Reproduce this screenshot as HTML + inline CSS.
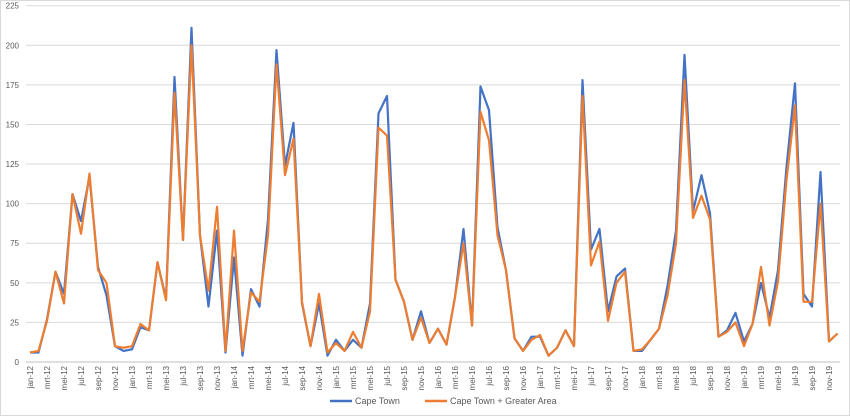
<!DOCTYPE html>
<html><head><meta charset="utf-8"><style>
body{margin:0;background:#fff;font-family:"Liberation Sans",sans-serif;}
svg{display:block}
</style></head><body>
<svg id="chart" width="850" height="416" xmlns="http://www.w3.org/2000/svg">
<rect x="0.5" y="0.5" width="849" height="415" fill="#fff" stroke="#d9d9d9"/>
<g id="grid"></g><g id="yt"></g><g id="xt"></g><g id="series"></g>
<g>
<line x1="330" y1="401" x2="352" y2="401" stroke="#4472C4" stroke-width="2.5"/>
<text x="355" y="404" font-size="9" fill="#595959">Cape Town</text>
<line x1="425" y1="401" x2="447" y2="401" stroke="#ED7D31" stroke-width="2.5"/>
<text x="450" y="404" font-size="9" fill="#595959">Cape Town + Greater Area</text>
</g>
</svg>
<script>
const months=["jan","feb","mrt","apr","mei","jun","jul","aug","sep","okt","nov","dec"];
const capeTown=[6,6,27,57,43,106,89,117,60,42,10,7,
8,22,20,63,40,180,77,211,80,35,83,6,
66,4,46,35,90,197,124,151,37,10,37,4,
14,7,14,9,37,157,168,52,38,14,32,12,
21,11,41,84,23,174,159,85,58,15,7,16,
16,4,9,20,10,178,71,84,32,54,59,7,
7,14,21,48,83,194,95,118,94,16,20,31,
13,24,50,28,58,123,176,43,35,120,13,18];
const greater=[6,7,26,57,37,106,81,119,58,50,10,9,
10,24,20,63,39,170,77,200,80,45,98,7,
83,7,44,38,80,188,118,141,38,10,43,6,
12,7,19,9,32,148,143,52,38,14,28,12,
21,11,41,75,23,158,140,80,58,15,7,14,
17,4,9,20,10,168,61,76,26,50,57,7,
8,14,21,42,75,178,91,105,90,16,19,25,
10,24,60,23,51,115,162,38,38,100,13,18];
const yTicks=[0,25,50,75,100,125,150,175,200,225];
const NS="http://www.w3.org/2000/svg";
const x0=30,dx=8.5,yb=362,yt=5.7;
const X=i=>x0+i*dx, Y=v=>yb-(v/225)*(yb-yt);
function mk(t,a,p){const e=document.createElementNS(NS,t);for(const k in a)e.setAttribute(k,a[k]);p.appendChild(e);return e;}
const grid=document.getElementById('grid'),ytg=document.getElementById('yt'),xtg=document.getElementById('xt'),sg=document.getElementById('series');
yTicks.forEach(v=>{
 const l=mk('line',{x1:26,x2:840,y1:Y(v),y2:Y(v),stroke:v===0?'#bfbfbf':'#d9d9d9','stroke-width':1},grid);
 
 
 const t=mk('text',{x:19,y:Y(v)+3,'font-size':8,'text-anchor':'end',fill:'#595959'},ytg);
 t.textContent=v;
 
 
});
for(let i=0;i<capeTown.length;i+=2){
 const lbl=months[i%12]+'-'+(12+Math.floor(i/12));
 const t=mk('text',{transform:`translate(${X(i)+3},366) rotate(-90)`,'font-size':8,'text-anchor':'end',fill:'#595959'},xtg);
 t.textContent=lbl;
 
 
}
[[capeTown,'#4472C4','series-cape-town'],[greater,'#ED7D31','series-greater-area']].forEach(([d,c,n])=>{
 const p=mk('polyline',{points:d.map((v,i)=>X(i)+','+Y(v)).join(' '),fill:'none',stroke:c,'stroke-width':2.2,'stroke-linejoin':'round'},sg);
 
 
});
</script>
</body></html>
